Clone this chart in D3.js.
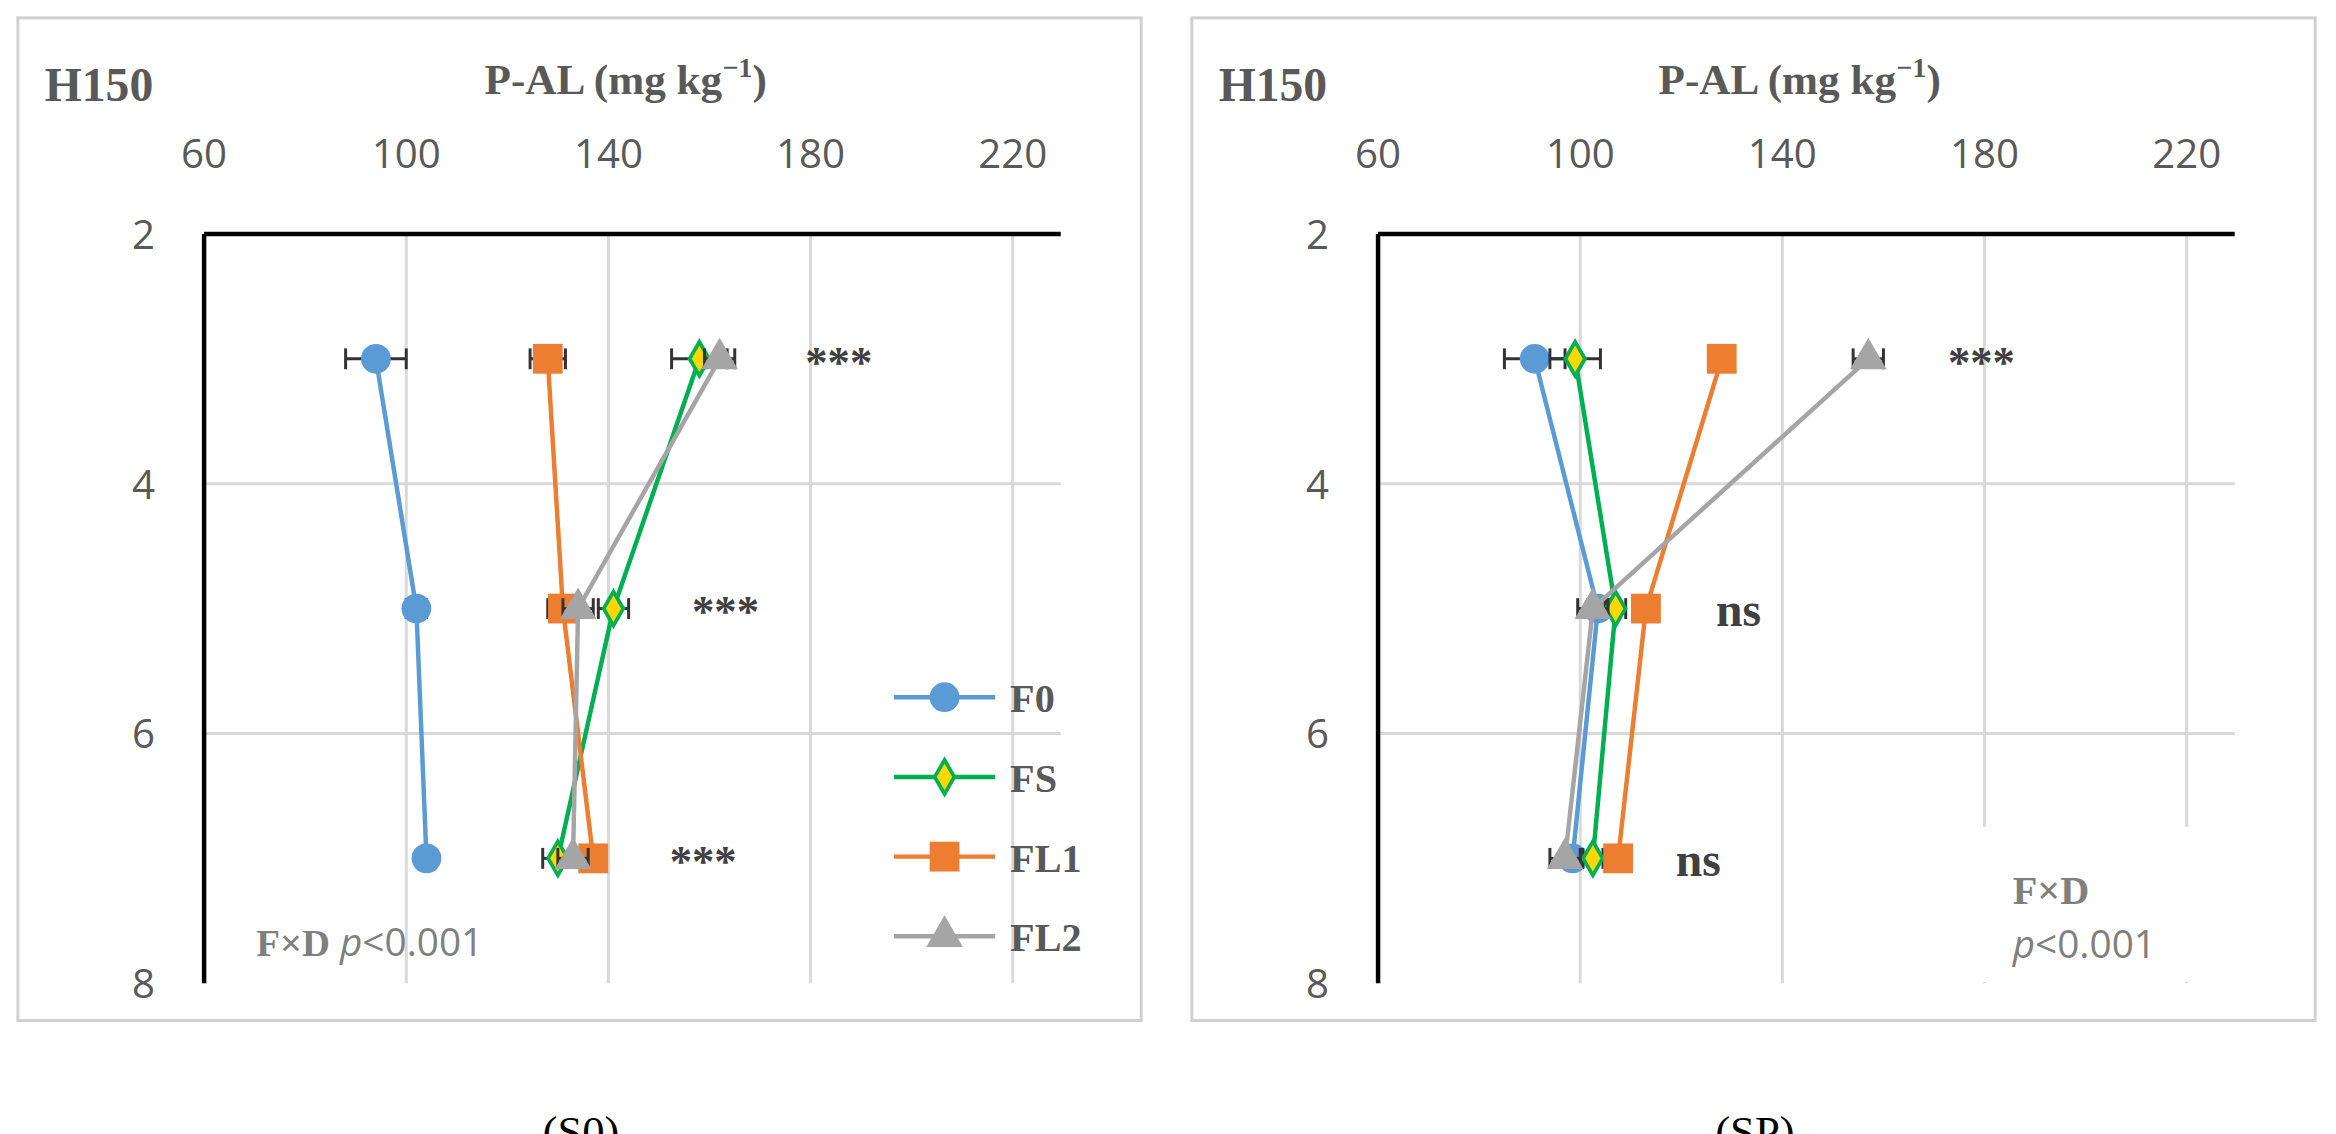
<!DOCTYPE html><html><head><meta charset="utf-8"><script src="https://cdn.jsdelivr.net/npm/d3@7"></script>
<style>body{margin:0;background:#fff}</style></head><body><svg id="c" width="2336" height="1134"></svg>
<script>
const depths=[3,5,7];
const seriesNames=["F0","FS","FL1","FL2"];
const colors=["#5B9BD5","#00B050","#ED7D31","#A5A5A5"];
const s0Values=[[94,102,104],[158,141,130],[128,131,137],[162,134,133]];
const s0Err=[[6,2,1.5],[5.5,3,3],[3.5,3,2],[3,3,3]];
const spValues=[[91,103.5,98.5],[99,107,102.5],[128,113,107.5],[157,102.5,97]];
const spErr=[[6,2,2],[5,2,2],[2,2,2],[3,3,3]];
const xTicks=[60,100,140,180,220];
const yTicks=[2,4,6,8];
const s0Sig=["***","***","***"];
const spSig=["***","ns","ns"];
const root=d3.select("#c").append("g").attr("transform","scale(1.4898)");
const serif="'Liberation Serif','DejaVu Serif',serif", sans="'Open Sans','Liberation Sans',sans-serif";
function panel(ox,vals,errs,sig,sigX,caption,legend){
  const g=root.append("g").attr("transform",`translate(${ox},0)`);
  g.append("rect").attr("x",12).attr("y",12).attr("width",754).attr("height",673).attr("fill","#fff").attr("stroke","#d0d0d0").attr("stroke-width",2);
  const x=d3.scaleLinear().domain([60,229.5]).range([137,712]);
  const y=d3.scaleLinear().domain([2,8]).range([157,660]);
  xTicks.slice(1).forEach(t=>g.append("line").attr("x1",x(t)).attr("x2",x(t)).attr("y1",157).attr("y2",660).attr("stroke","#d9d9d9").attr("stroke-width",2));
  yTicks.slice(1,3).forEach(t=>g.append("line").attr("x1",137).attr("x2",712).attr("y1",y(t)).attr("y2",y(t)).attr("stroke","#d9d9d9").attr("stroke-width",2));
  g.append("line").attr("x1",137).attr("x2",712).attr("y1",157).attr("y2",157).attr("stroke","#000").attr("stroke-width",3);
  g.append("line").attr("x1",137).attr("x2",137).attr("y1",157).attr("y2",660).attr("stroke","#000").attr("stroke-width",3);
  xTicks.forEach(t=>g.append("text").attr("x",x(t)).attr("y",113).attr("text-anchor","middle").attr("font-family",sans).attr("font-size",27).attr("fill","#595959").text(t));
  yTicks.forEach(t=>g.append("text").attr("x",104).attr("y",y(t)+10).attr("text-anchor","end").attr("font-family",sans).attr("font-size",27).attr("fill","#595959").text(t));
  g.append("text").attr("x",30).attr("y",68).attr("font-family",serif).attr("font-weight","bold").attr("font-size",32).attr("fill","#595959").text("H150");
  const tt=g.append("text").attr("x",420).attr("y",63).attr("text-anchor","middle").attr("font-family",serif).attr("font-weight","bold").attr("font-size",29).attr("fill","#595959");
  tt.append("tspan").text("P-AL (mg kg");tt.append("tspan").attr("font-size",19).attr("dy",-11).text("−1");tt.append("tspan").attr("dy",11).text(")");
  if(!legend) g.append("rect").attr("x",542).attr("y",555).attr("width",170).attr("height",104).attr("fill","#fff");
  const line=d3.line().x(d=>x(d[0])).y(d=>y(d[1]));
  vals.forEach((v,i)=>{
    const pts=v.map((d,j)=>[d,depths[j]]);
    pts.forEach((p,j)=>{const e=errs[i][j],yy=y(p[1]);
      g.append("line").attr("x1",x(p[0]-e)).attr("x2",x(p[0]+e)).attr("y1",yy).attr("y2",yy).attr("stroke","#333").attr("stroke-width",2);
      [p[0]-e,p[0]+e].forEach(q=>g.append("line").attr("x1",x(q)).attr("x2",x(q)).attr("y1",yy-7).attr("y2",yy+7).attr("stroke","#333").attr("stroke-width",2));});
    g.append("path").attr("d",line(pts)).attr("fill","none").attr("stroke",colors[i]).attr("stroke-width",3);
    pts.forEach(p=>marker(g,i,x(p[0]),y(p[1])));
  });
  sig.forEach((s,j)=>g.append("text").attr("x",sigX[j]).attr("y",y(depths[j])+12).attr("text-anchor","middle").attr("font-family",serif).attr("font-weight","bold").attr("font-size",s==="ns"?32:30).attr("fill","#404040").text(s));
  if(legend){
    g.append("text").attr("x",172).attr("y",642).attr("font-family",sans).attr("font-size",26).attr("fill","#7f7f7f").html("<tspan font-weight='bold' font-family=\"Liberation Serif\">F×D</tspan> <tspan font-style='italic'>p</tspan>&lt;0.001");
    seriesNames.forEach((n,i)=>{const yy=468+i*53.5;
      g.append("line").attr("x1",600).attr("x2",668).attr("y1",yy).attr("y2",yy).attr("stroke",colors[i]).attr("stroke-width",3);
      marker(g,i,634,yy);
      g.append("text").attr("x",678).attr("y",yy+10).attr("font-family",serif).attr("font-weight","bold").attr("font-size",27).attr("fill","#595959").text(n);});
  } else {
    g.append("text").attr("x",563).attr("y",607).attr("font-family",serif).attr("font-weight","bold").attr("font-size",27).attr("fill","#7f7f7f").text("F×D");
    g.append("text").attr("x",563).attr("y",643).attr("font-family",sans).attr("font-size",26).attr("fill","#7f7f7f").html("<tspan font-style='italic'>p</tspan>&lt;0.001");
  }
  g.append("text").attr("x",390).attr("y",770).attr("text-anchor","middle").attr("font-family",serif).attr("font-size",30).attr("fill","#000").text(caption);
}
function marker(g,i,cx,cy){
  if(i===0) g.append("circle").attr("cx",cx).attr("cy",cy).attr("r",10).attr("fill",colors[0]);
  else if(i===1) g.append("path").attr("d",d3.symbol(d3.symbolDiamond,150)()).attr("transform",`translate(${cx},${cy})`).attr("fill","#FFD700").attr("stroke","#00B050").attr("stroke-width",2.5);
  else if(i===2) g.append("rect").attr("x",cx-10).attr("y",cy-10).attr("width",20).attr("height",20).attr("fill",colors[2]);
  else g.append("path").attr("d",d3.symbol(d3.symbolTriangle,260)()).attr("transform",`translate(${cx},${cy})`).attr("fill",colors[3]);
}
panel(0,s0Values,s0Err,s0Sig,[563,487,472],"(S0)",true);
panel(788,spValues,spErr,spSig,[542,379,352],"(SP)",false);
</script></body></html>
